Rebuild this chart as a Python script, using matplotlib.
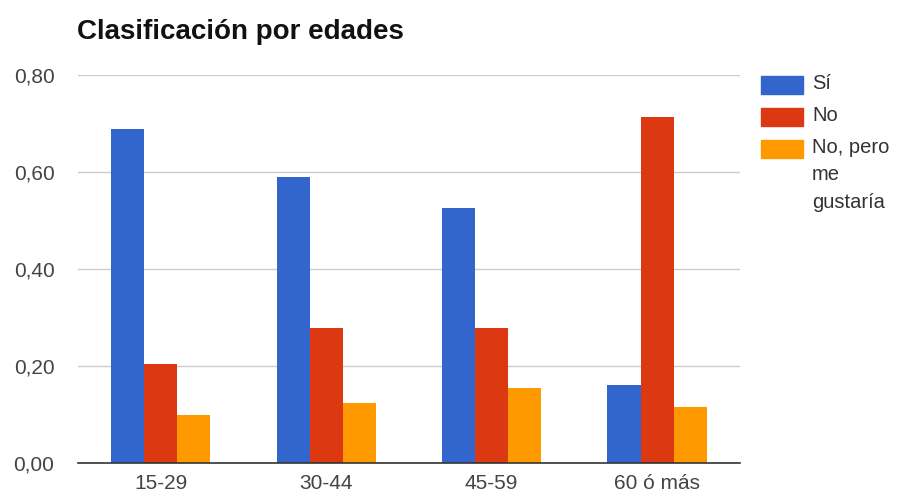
import numpy as np
import matplotlib
matplotlib.use("Agg")
import matplotlib.pyplot as plt
import matplotlib.ticker as ticker
from matplotlib.patches import Rectangle

plt.rcParams["font.family"] = ["Liberation Sans", "DejaVu Sans"]

# Data
categories = ["15-29", "30-44", "45-59", "60 ó más"]
series_names = ["Sí", "No", "No, pero\nme\ngustaría"]
si_values = [0.688, 0.589, 0.526, 0.161]
no_values = [0.204, 0.278, 0.278, 0.714]
no_pero_values = [0.098, 0.123, 0.154, 0.116]
y_ticks = [0.0, 0.2, 0.4, 0.6, 0.8]

colors = ["#3366CC", "#DC3912", "#FF9900"]

W, H = 900, 494
fig = plt.figure(figsize=(W / 100, H / 100), dpi=100)
ax = fig.add_axes([0.0867, 0.0628, 0.7353, 0.7852])

x = np.arange(len(categories))
width = 0.2
for i, (vals, name, color) in enumerate(
    zip([si_values, no_values, no_pero_values], series_names, colors)
):
    ax.bar(x + (i - 1) * width, vals, width=width, color=color, label=name,
           zorder=3)

ax.set_xlim(-0.5, len(categories) - 0.5)
ax.set_ylim(0, 0.8)
ax.set_yticks(y_ticks)
ax.yaxis.set_major_formatter(
    ticker.FuncFormatter(lambda v, _: f"{v:.2f}".replace(".", ","))
)
ax.set_xticks(x)
ax.set_xticklabels(categories)

# Google-chart style axes
for side in ["top", "right", "left"]:
    ax.spines[side].set_visible(False)
ax.spines["bottom"].set_color("#333333")
ax.spines["bottom"].set_linewidth(1.2)
ax.spines["bottom"].set_zorder(4)
ax.yaxis.grid(True, color="#cccccc", linewidth=1)
ax.set_axisbelow(True)
ax.tick_params(axis="both", length=0, labelsize=15, labelcolor="#444444")
ax.tick_params(axis="y", pad=17)
ax.tick_params(axis="x", pad=8)

fig.text(77 / W, 1 - 32 / H, "Clasificación por edades", fontsize=20,
         fontweight="bold", color="#111111", va="center", ha="left")

# legend drawn by hand so the swatch lines up with the first line of text
for i, (name, color) in enumerate(zip(series_names, colors)):
    yc = 85 + i * 32
    fig.add_artist(Rectangle((761 / W, 1 - (yc + 9) / H), 42 / W, 18 / H,
                             transform=fig.transFigure, color=color))
    fig.text(812 / W, 1 - (yc - 11) / H, name, fontsize=14.5, color="#333333",
             va="top", ha="left", linespacing=1.55)

fig.savefig("out.png", dpi=100)
